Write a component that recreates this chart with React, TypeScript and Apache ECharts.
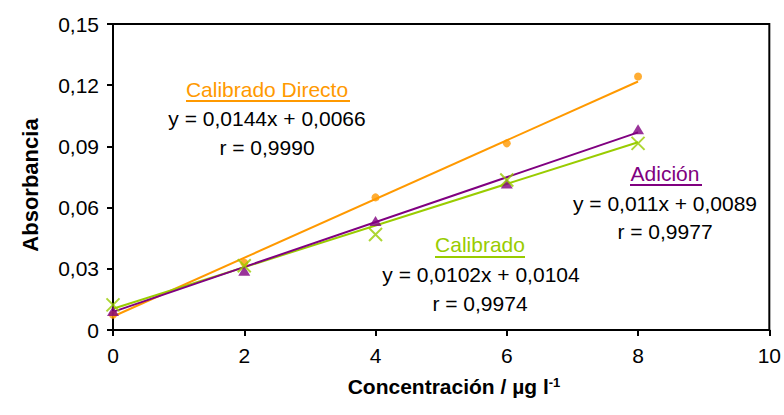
import React, { useEffect, useRef } from "react";
import * as echarts from "echarts";

// ---- data ----
const concentrations = [0, 2, 4, 6, 8];
const directoValues = [0.0075, 0.033, 0.065, 0.0915, 0.1243];
const adicionValues = [0.0093, 0.029, 0.0534, 0.0718, 0.0984];
const calibradoValues = [0.0123, 0.0315, 0.0468, 0.0735, 0.0915];

const directoFit = { slope: 0.0144, intercept: 0.0066 };
const adicionFit = { slope: 0.011, intercept: 0.0089 };
const calibradoFit = { slope: 0.0102, intercept: 0.0104 };

const xTickValues = [0, 2, 4, 6, 8, 10];
const yTickLabels = ["0", "0,03", "0,06", "0,09", "0,12", "0,15"];

const ORANGE = "#FF9900";
const PURPLE = "#800080";
const GREEN = "#99CC00";
const FONT = "'Liberation Sans', Arial, sans-serif";
const FS = 21;

function fitLine(fit: { slope: number; intercept: number }) {
  const x0 = concentrations[0];
  const x1 = concentrations[concentrations.length - 1];
  return [
    [x0, fit.slope * x0 + fit.intercept],
    [x1, fit.slope * x1 + fit.intercept],
  ];
}

function pts(values: number[]) {
  return concentrations.map((c, i) => [c, values[i]]);
}

export default function App() {
  const ref = useRef<HTMLDivElement>(null);
  useEffect(() => {
    if (!ref.current) return;
    const chart = echarts.init(ref.current, undefined, { renderer: "svg" });
    const txt = (text: string, x: number, y: number, color: string, extra: any = {}) => ({
      type: "text",
      x,
      y,
      style: {
        text,
        fill: color,
        font: `${FS}px ${FONT}`,
        textAlign: "center",
        textVerticalAlign: "middle",
        ...extra,
      },
    });
    const underline = (x1: number, x2: number, y: number, color: string) => ({
      type: "rect",
      shape: { x: x1, y: y, width: x2 - x1, height: 2 },
      style: { fill: color },
    });
    chart.setOption({
      animation: false,
      grid: {
        left: 113,
        top: 24,
        width: 657,
        height: 306,
        show: true,
        borderColor: "#000",
        borderWidth: 2,
      },
      xAxis: {
        type: "value",
        min: 0,
        max: 10,
        interval: 2,
        axisLine: { show: true, lineStyle: { color: "#000", width: 2 } },
        axisTick: { show: true, length: 6, lineStyle: { color: "#000", width: 2 } },
        axisLabel: { color: "#000", fontSize: FS, fontFamily: FONT, margin: 15 },
        splitLine: { show: false },
        data: xTickValues,
      },
      yAxis: {
        type: "value",
        min: 0,
        max: 0.15,
        interval: 0.03,
        axisLine: { show: true, lineStyle: { color: "#000", width: 2 } },
        axisTick: { show: true, length: 6, lineStyle: { color: "#000", width: 2 } },
        axisLabel: {
          color: "#000",
          fontSize: FS,
          fontFamily: FONT,
          margin: 14,
          formatter: (v: number) => yTickLabels[Math.round(v / 0.03)],
        },
        splitLine: { show: false },
      },
      series: [
        {
          type: "line",
          data: fitLine(directoFit),
          showSymbol: false,
          lineStyle: { color: ORANGE, width: 2 },
          z: 2,
        },
        {
          type: "scatter",
          data: pts(directoValues),
          symbol: "circle",
          symbolSize: 8,
          itemStyle: { color: ORANGE },
          z: 3,
        },
        {
          type: "line",
          data: fitLine(calibradoFit),
          showSymbol: false,
          lineStyle: { color: GREEN, width: 2 },
          z: 2,
        },
        {
          type: "line",
          data: fitLine(adicionFit),
          showSymbol: false,
          lineStyle: { color: PURPLE, width: 2 },
          z: 2,
        },
        {
          type: "scatter",
          data: pts(adicionValues),
          symbol: "triangle",
          symbolSize: [12, 10],
          itemStyle: { color: PURPLE },
          z: 3,
        },
        {
          type: "scatter",
          data: pts(calibradoValues),
          symbol: "path://M0,0L10,10M10,0L0,10",
          symbolSize: 13,
          itemStyle: { color: "none", borderColor: GREEN, borderWidth: 2 },
          z: 4,
        },
      ],
      graphic: [
        {
          type: "text",
          x: 30,
          y: 185,
          rotation: Math.PI / 2,
          style: {
            text: "Absorbancia",
            fill: "#000",
            font: `bold 22px ${FONT}`,
            textAlign: "center",
            textVerticalAlign: "middle",
          },
        },
        {
          type: "text",
          x: 454,
          y: 386,
          style: {
            text: "{a|Concentración / µg l}{b|-1}",
            fill: "#000",
            textAlign: "center",
            textVerticalAlign: "middle",
            rich: {
              a: { fontSize: 21, fontWeight: "bold", fontFamily: FONT, fill: "#000" },
              b: {
                fontSize: 13,
                fontWeight: "bold",
                fontFamily: FONT,
                fill: "#000",
                verticalAlign: "top",
                padding: [0, 0, 8, 0],
              },
            },
          },
        },
        txt("Calibrado Directo", 267, 89, ORANGE),
        underline(186, 350, 100, ORANGE),
        txt("y = 0,0144x + 0,0066", 267, 118, "#000"),
        txt("r = 0,9990", 267, 147, "#000"),

        txt("Adición", 665, 173, PURPLE),
        underline(630, 702, 184, PURPLE),
        txt("y = 0,011x + 0,0089", 665, 203, "#000"),
        txt("r = 0,9977", 665, 231, "#000"),

        txt("Calibrado", 480, 244, GREEN),
        underline(435, 525, 256, GREEN),
        txt("y = 0,0102x + 0,0104", 481, 274, "#000"),
        txt("r = 0,9974", 480, 303, "#000"),
      ],
    });
    return () => chart.dispose();
  }, []);
  return (
    <div
      ref={ref}
      style={{ position: "absolute", left: 0, top: 0, width: 784, height: 415, background: "#fff" }}
    />
  );
}
